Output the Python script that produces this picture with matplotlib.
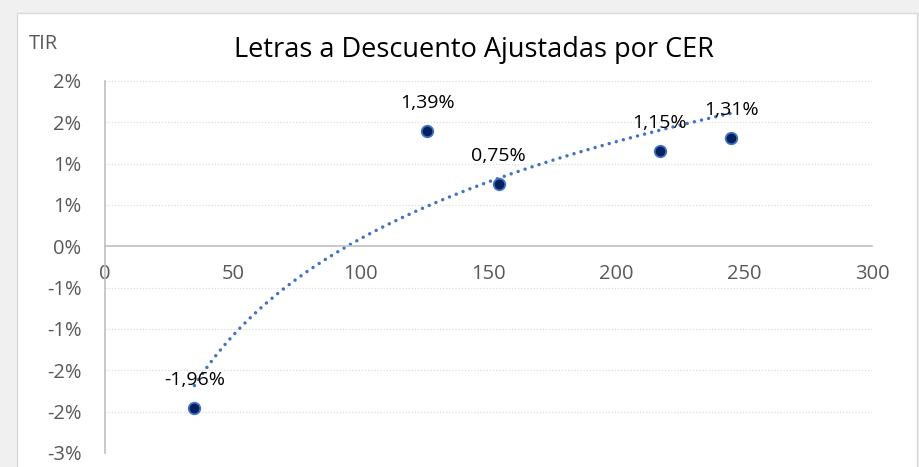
import numpy as np
import matplotlib
matplotlib.use("Agg")
import matplotlib.pyplot as plt
from matplotlib.patches import Rectangle
from matplotlib.ticker import FuncFormatter

plt.rcParams['font.family'] = ['Open Sans', 'DejaVu Sans']

# days to maturity and TIR (%)
dias = [35, 126, 154, 217, 245]
tir = [-1.96, 1.39, 0.75, 1.15, 1.31]

x_ticks = [0, 50, 100, 150, 200, 250, 300]
y_ticks = [-2.5, -2.0, -1.5, -1.0, -0.5, 0.0, 0.5, 1.0, 1.5, 2.0]

W, H = 920, 467
fig = plt.figure(figsize=(W / 100, H / 100), dpi=100, facecolor='#f0f0f0')
fig.patches.append(Rectangle((17 / W, -0.1), 900 / W, 1.1 - 13 / H,
                             transform=fig.transFigure, facecolor='white',
                             edgecolor='#d9d9d9', lw=1, zorder=-10))

ax = fig.add_axes([105 / W, (H - 453) / H, (872 - 105) / W, (453 - 81) / H])
ax.set_facecolor('none')
ax.set_xlim(0, 300)
ax.set_ylim(-2.5, 2.0)

# horizontal dotted gridlines
for v in y_ticks:
    if v != 0:
        ax.axhline(v, color='#dcdcdc', lw=0.9, ls=(0, (1, 1.5)), zorder=1)

for s in ['top', 'right']:
    ax.spines[s].set_visible(False)
ax.spines['left'].set_color('#bfbfbf')
ax.spines['left'].set_linewidth(1.2)
ax.spines['bottom'].set_position(('data', 0))
ax.spines['bottom'].set_color('#bfbfbf')
ax.spines['bottom'].set_linewidth(1.2)

ax.set_xticks(x_ticks)
ax.set_yticks(y_ticks)


def excel_pct(v, pos):
    r = np.sign(v) * np.floor(abs(v) + 0.5)
    return f"{int(r)}%"


ax.yaxis.set_major_formatter(FuncFormatter(excel_pct))
ax.tick_params(axis='x', length=0, pad=12.5, labelsize=14.5, colors='#595959')
ax.tick_params(axis='y', length=0, pad=17, labelsize=14.5, colors='#595959')

# logarithmic trendline
a, b = np.polyfit(np.log(dias), tir, 1)
xt = np.linspace(min(dias), max(dias), 200)
ax.plot(xt, a * np.log(xt) + b, color='#4472C4', lw=2.5,
        ls=(0, (0.01, 2.1)), dash_capstyle='round', zorder=2)

ax.plot(dias, tir, 'o', ms=8.3, mfc='#002060', mec='#4472C4', mew=1.3,
        zorder=3, clip_on=False)

for x, y in zip(dias, tir):
    ax.annotate(f"{y:.2f}%".replace('.', ','), (x, y), xytext=(0, 20.5),
                textcoords='offset points', ha='center', va='center',
                fontsize=14, color='#000000', zorder=4)

fig.text(474 / W, 1 - 50 / H, 'Letras a Descuento Ajustadas por CER',
         ha='center', va='center', fontsize=19.5, color='#000000')
fig.text(29 / W, 1 - 44 / H, 'TIR', ha='left', va='center',
         fontsize=14.5, color='#595959')

fig.savefig('out.png', dpi=100, facecolor=fig.get_facecolor())
